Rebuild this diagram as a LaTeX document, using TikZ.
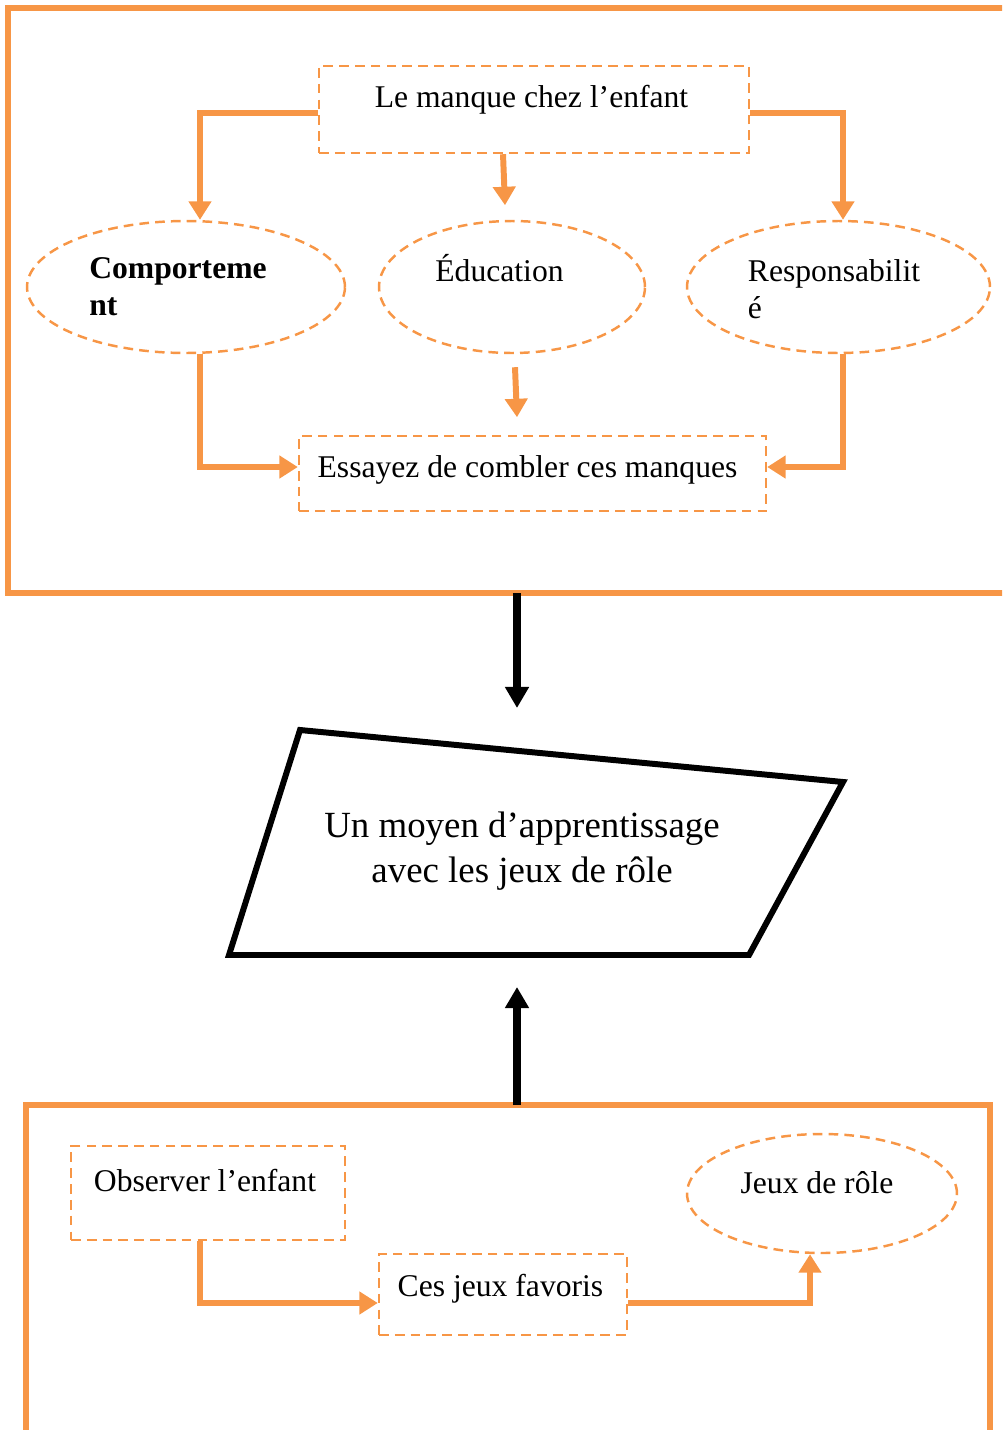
\documentclass[tikz,border=0pt]{standalone}
\usepackage{fontspec}
\setmainfont{Liberation Serif}
\usetikzlibrary{arrows.meta,shapes.geometric}
\definecolor{orng}{HTML}{F79646}
\tikzset{
  frame/.style={draw=orng, line width=3.6pt},
  dashbox/.style={draw=orng, line width=1.4pt, dash pattern=on 5.5pt off 3.5pt, inner sep=0pt},
  dashoval/.style={dashbox, ellipse},
  link/.style={draw=orng, line width=3.4pt, -{Triangle[width=12.5pt,length=10.5pt]}},
  bigarrow/.style={draw=black, line width=4.2pt, -{Triangle[width=13pt,length=12pt]}},
  txt/.style={font=\fontsize{18}{21}\selectfont, inner sep=0pt},
  boldtxt/.style={txt, font=\fontsize{18}{21}\selectfont\bfseries},
}
\begin{document}
\begin{tikzpicture}[x=0.02cm, y=-0.02cm]
  \clip (0,0) rectangle (1002,1430);
  \draw[frame] (1010,8) -- (8,8) -- (8,593) -- (1010,593);
  \draw[frame] (26,1440) -- (26,1105) -- (990,1105) -- (990,1440);

  \node[dashbox, minimum width=8.6cm, minimum height=1.74cm] (manque) at (534,109.5) {};
  \node[txt] (manquetxt) at (531.5,100) {Le manque chez l’enfant};
  \node[dashoval, minimum width=6.36cm, minimum height=2.64cm] (comp) at (186,287) {};
  \node[boldtxt, align=left] (comptxt) at (178,287) {Comporteme\\nt};
  \node[dashoval, minimum width=5.32cm, minimum height=2.64cm] (educ) at (512,287) {};
  \node[txt] (eductxt) at (499.5,268) {Éducation};
  \node[dashoval, minimum width=6.06cm, minimum height=2.64cm] (resp) at (838.5,287) {};
  \node[txt, align=left] (resptxt) at (834,289) {Responsabilit\\é};
  \node[dashbox, minimum width=9.34cm, minimum height=1.5cm] (essai) at (532.5,473.5) {};
  \node[txt] (essaitxt) at (527.5,470) {Essayez de combler ces manques};

  \draw[link] ([yshift=-0.07cm]manque.west) -| ([xshift=0.28cm]comp.north);
  \draw[link] ([yshift=-0.07cm]manque.east) -| ([xshift=0.09cm]resp.north);
  \draw[link] ([xshift=-0.62cm]manque.south) -- ++(2,51);
  \draw[link] ([shift={(3,13)}]educ.south) -- ++(2,50);
  \draw[link] ([xshift=0.28cm]comp.south) |- ([yshift=0.13cm]essai.west);
  \draw[link] ([xshift=0.09cm]resp.south) |- ([yshift=0.13cm]essai.east);

  \coordinate (topbase) at (517,593);
  \coordinate (moyenin) at (517,708);
  \draw[bigarrow] (topbase) -- (moyenin);
  \draw[line width=3.4pt] (300,730) -- (843,782) -- (749,955) -- (229,955) -- cycle;
  \node[font=\fontsize{21}{25.5}\selectfont, align=center, inner sep=0pt] (moyen) at (522,851) {Un moyen d’apprentissage\\avec les jeux de rôle};
  \coordinate (botbase) at (517,1105);
  \coordinate (moyenout) at (517,987);
  \draw[bigarrow] (botbase) -- (moyenout);

  \node[dashbox, minimum width=5.48cm, minimum height=1.88cm] (obs) at (208,1193) {};
  \node[txt] (obstxt) at (205,1181) {Observer l’enfant};
  \node[dashoval, minimum width=5.4cm, minimum height=2.38cm] (jeux) at (822,1193.5) {};
  \node[txt] (jeuxtxt) at (817,1183) {Jeux de rôle};
  \node[dashbox, minimum width=4.96cm, minimum height=1.62cm] (fav) at (503,1294.5) {};
  \node[txt] (favtxt) at (500.5,1289) {Ces jeux favoris};
  \draw[link] ([xshift=-0.16cm]obs.south) |- ([yshift=-0.17cm]fav.west);
  \draw[link] ([yshift=-0.17cm]fav.east) -| ([xshift=-0.24cm]jeux.south);
\end{tikzpicture}
\end{document}
